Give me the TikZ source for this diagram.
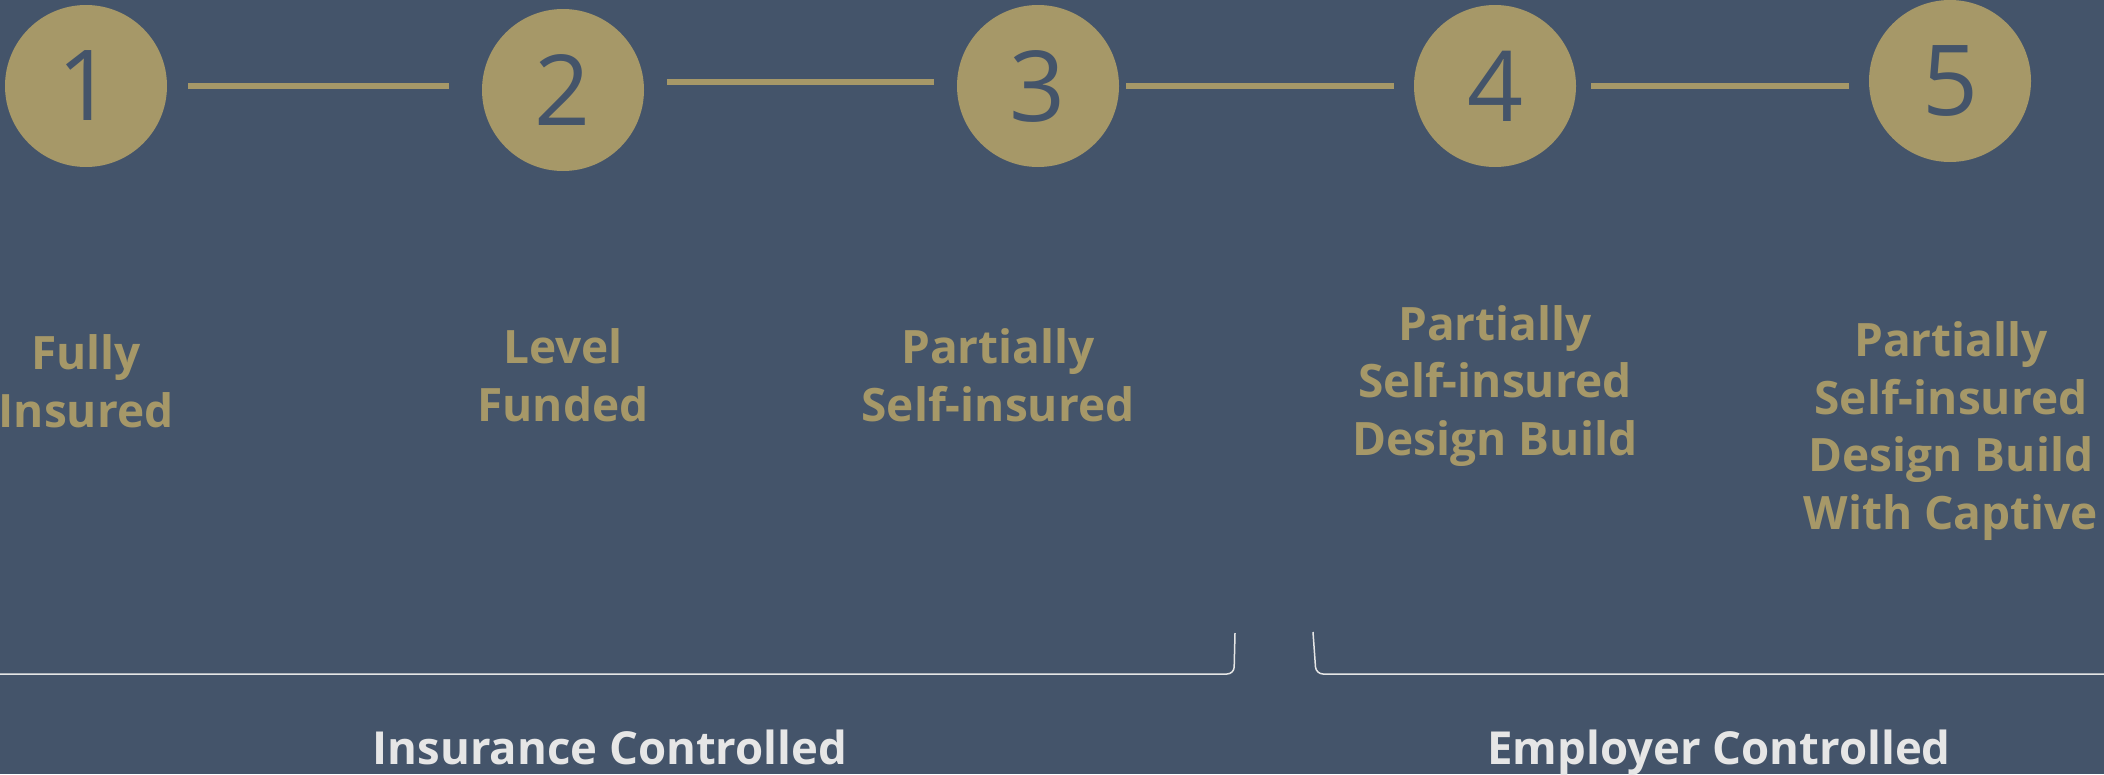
\documentclass[tikz,border=0pt]{standalone}
\usepackage{fontspec}
\setmainfont{Open Sans}
\usetikzlibrary{positioning}

\definecolor{slate}{HTML}{44546A}
\definecolor{tan}{HTML}{A69868}
\definecolor{paleline}{HTML}{E6E6E6}

\begin{document}
\begin{tikzpicture}[x=1pt, y=-1pt,
  stagecirc/.style={circle, fill=tan, minimum size=162pt, inner sep=0pt,
    text=slate, font=\fontsize{98}{98}\selectfont},
  link/.style={draw=tan, line width=6pt},
  stagelabel/.style={align=center, anchor=base, inner sep=0pt, text=tan,
    font=\fontsize{46}{57.5}\selectfont\bfseries},
  sidelabel/.style={anchor=base, inner sep=0pt, text=paleline,
    font=\fontsize{45.5}{58}\selectfont\bfseries},
  brace/.style={draw=paleline, line width=1.5pt, rounded corners=7pt}]

\useasboundingbox (0,0) rectangle (2104,774);
\fill[slate] (0,0) rectangle (2104,774);

% the five steps
\node[stagecirc] (c1) at (86,86) {1};
\node[stagecirc] (c2) at (563,90) {2};
\node[stagecirc] (c3) at (1038,86) {3};
\node[stagecirc] (c4) at (1495,86) {4};
\node[stagecirc] (c5) at (1950,81) {5};

\draw[link, shorten <=21pt, shorten >=33pt] (c1.east) -- (c1.east -| c2.west);
\draw[link, shorten <=23pt, shorten >=23pt] ([yshift=8pt]c2.east) -- ([yshift=8pt]c2.east -| c3.west);
\draw[link, shorten <=7pt, shorten >=20pt] (c3.east) -- (c3.east -| c4.west);
\draw[link, shorten <=15pt, shorten >=20pt] (c4.east) -- (c4.east -| c5.west);

% what each step means (placed by the baseline of the last line)
\node[stagelabel] (t1) at (86,427) {Fully\\Insured};
\node[stagelabel] (t2) at (563,421) {Level\\Funded};
\node[stagelabel] (t3) at (998,421) {Partially\\Self-insured};
\node[stagelabel] (t4) at (1495,455) {Partially\\Self-insured\\Design Build};
\node[stagelabel] (t5) at (1951,529) {Partially\\Self-insured\\Design Build\\With Captive};

% who is in control
\draw[brace] (0,674) -- (1234,674) -- (1235,633);
\draw[brace] (1313,632) -- (1316,674) -- (2104,674);

\node[sidelabel] (ins) at (610,764) {Insurance Controlled};
\node[sidelabel] (emp) at (1719,764) {Employer Controlled};

\end{tikzpicture}
\end{document}
